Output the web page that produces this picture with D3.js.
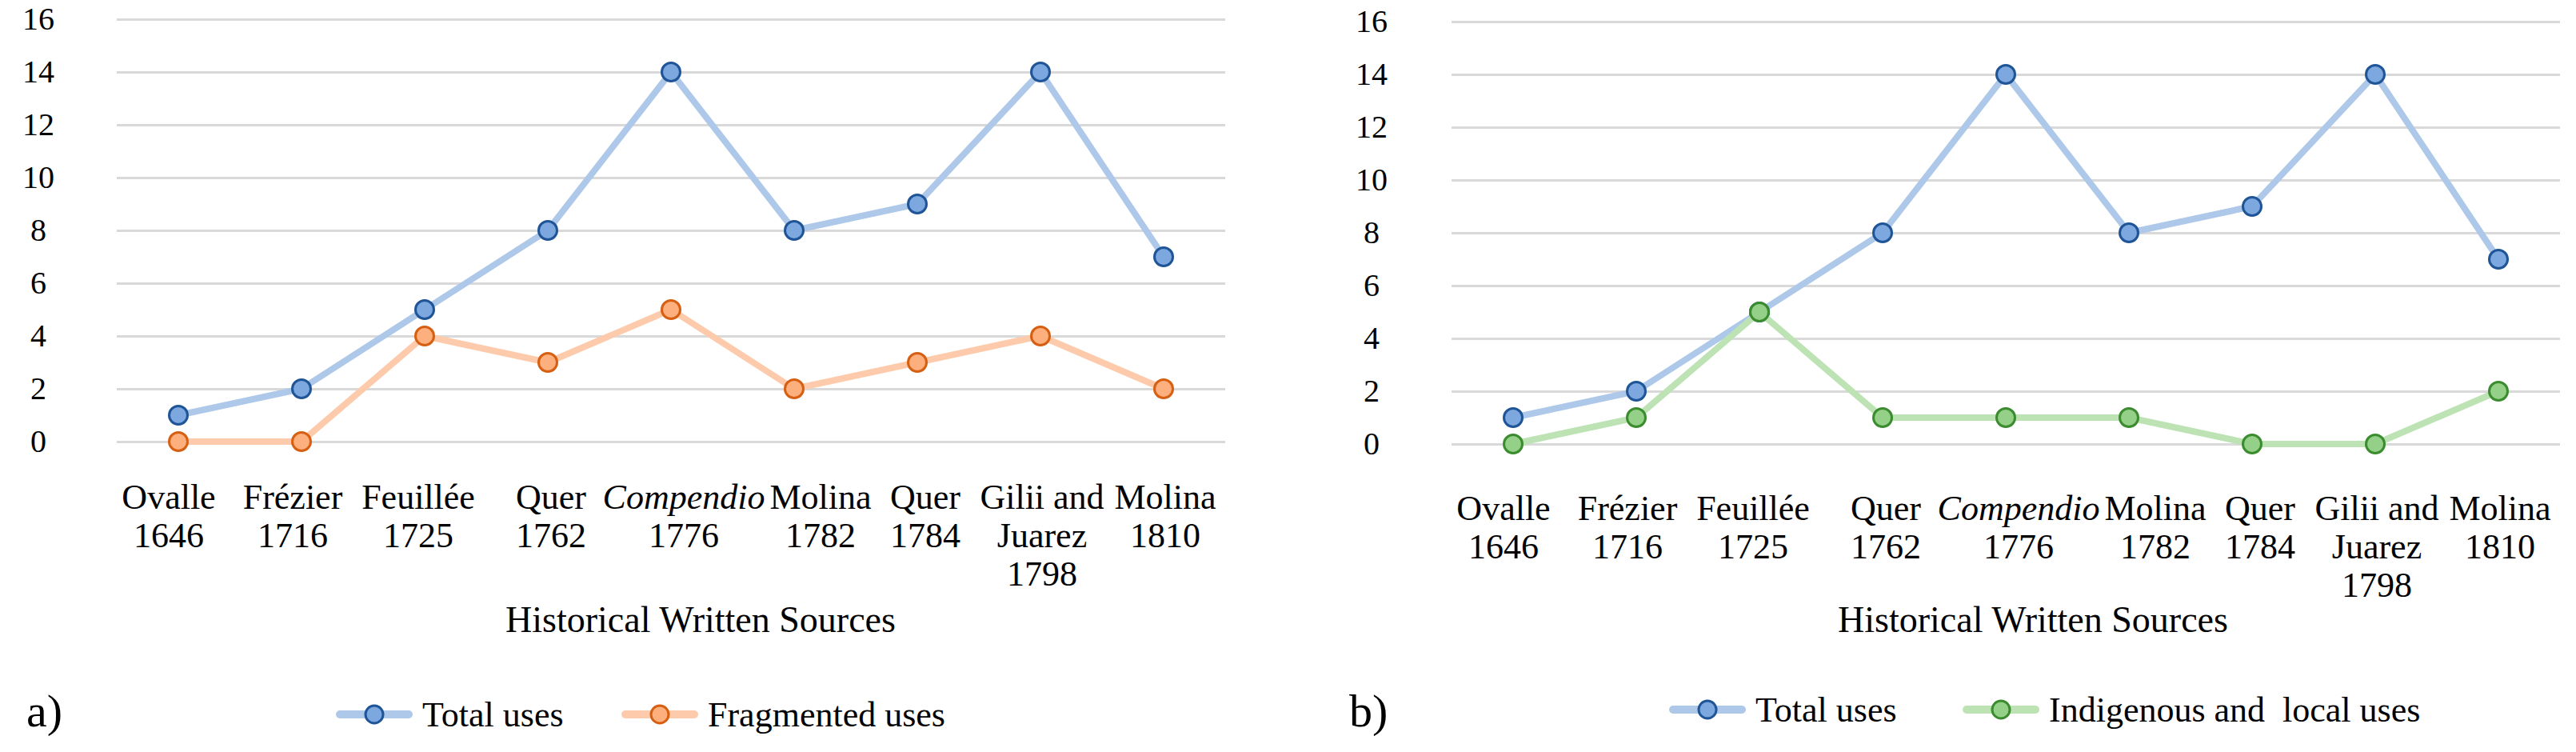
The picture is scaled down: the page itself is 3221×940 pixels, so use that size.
<!DOCTYPE html>
<html>
<head>
<meta charset="utf-8">
<title>Historical written sources - uses</title>
<style>
  body { margin: 0; background: #fff; }
</style>
</head>
<body>
<svg id="chart" width="3221" height="940"></svg>

<script src="https://cdnjs.cloudflare.com/ajax/libs/d3/7.8.5/d3.min.js"></script>
<script>
    // tick labels of the x axis (one entry per source, one string per line)
    const sourceLabels = [
        ["Ovalle", "1646"],
        ["Frézier", "1716"],
        ["Feuillée", "1725"],
        ["Quer", "1762"],
        ["Compendio", "1776"],
        ["Molina", "1782"],
        ["Quer", "1784"],
        ["Gilii and", "Juarez", "1798"],
        ["Molina", "1810"]
    ];
    const italicLabels = ["Compendio"];
    const yTicks = [0, 2, 4, 6, 8, 10, 12, 14, 16];

    // series values
    const totalUses = [1, 2, 5, 8, 14, 8, 9, 14, 7];
    const fragmentedUses = [0, 0, 4, 3, 5, 2, 3, 4, 2];
    const indigenousUses = [0, 1, 5, 1, 1, 1, 0, 0, 2];

    const sourceKeys = sourceLabels.map(l => l.join(" "));
    const serif = "Liberation Serif";
    // small horizontal nudges of the x labels, as the original layout spreads them
    const labelNudge = [-12, -11, -8, 4, 16, 33, 10, 2, 2];

    const blue = { line: "#aec8ea", fill: "#7ca7df", stroke: "#1f5597" };
    const orange = { line: "#fdcbab", fill: "#fdb07e", stroke: "#d65f12" };
    const green = { line: "#bde3b4", fill: "#95d089", stroke: "#3a8c2e" };

    const panels = [
        {
            tag: "a)", tagX: 33,
            left: 146, right: 1532, top: 24, bottom: 552,
            tickX: 48, labelY: 84, titleX: 876,
            legendX: [420, 777], legendY: 893,
            series: [
                Object.assign({ name: "Total uses", values: totalUses }, blue),
                Object.assign({ name: "Fragmented uses", values: fragmentedUses }, orange)
            ]
        },
        {
            tag: "b)", tagX: 1687,
            left: 1815, right: 3201, top: 27, bottom: 555,
            tickX: 1715, labelY: 95, titleX: 2542,
            legendX: [2087, 2454], legendY: 887,
            series: [
                Object.assign({ name: "Total uses", values: totalUses }, blue),
                Object.assign({ name: "Indigenous and  local uses", values: indigenousUses }, green)
            ]
        }
    ];

    const svg = d3.select("#chart");

    panels.forEach(p => {
        const x = d3.scaleBand().domain(sourceKeys).range([p.left, p.right]);
        const y = d3.scaleLinear().domain([0, 16]).range([p.bottom, p.top]);
        const g = svg.append("g");

        // gridlines and y labels
        const yAxis = g.append("g")
            .attr("transform", "translate(" + p.left + ",0)")
            .call(d3.axisLeft(y).tickValues(yTicks).tickSize(-(p.right - p.left)))
            .attr("font-family", serif)
            .attr("font-size", 40);
        yAxis.select(".domain").remove();
        yAxis.selectAll(".tick line").attr("stroke", "#d9d9d9").attr("stroke-width", 3);
        yAxis.selectAll(".tick text")
            .attr("x", p.tickX - p.left)
            .attr("text-anchor", "middle")
            .attr("fill", "#000")
            .attr("font-family", serif)
            .attr("font-size", 40);

        // x labels, split over several lines
        const xAxis = g.append("g")
            .attr("transform", "translate(0," + p.bottom + ")")
            .call(d3.axisBottom(x).tickSize(0))
            .attr("font-family", serif)
            .attr("font-size", 44);
        xAxis.select(".domain").remove();
        xAxis.selectAll(".tick text").each(function (d, i) {
            const t = d3.select(this).text(null)
                .attr("y", p.labelY).attr("dy", null)
                .attr("fill", "#000")
                .attr("font-family", serif)
                .attr("font-size", 44);
            sourceLabels[i].forEach((line, j) => {
                t.append("tspan")
                    .attr("x", labelNudge[i])
                    .attr("dy", j ? 48 : 0)
                    .attr("font-style", italicLabels.includes(line) ? "italic" : null)
                    .text(line);
            });
        });

        const line = d3.line()
            .x((d, i) => x(sourceKeys[i]) + x.bandwidth() / 2)
            .y(d => y(d));

        p.series.forEach(s => {
            g.append("path")
                .attr("d", line(s.values))
                .attr("fill", "none")
                .attr("stroke", s.line)
                .attr("stroke-width", 8)
                .attr("stroke-linejoin", "round")
                .attr("stroke-linecap", "round");

            g.selectAll(null)
                .data(s.values)
                .enter()
                .append("circle")
                .attr("cx", (d, i) => x(sourceKeys[i]) + x.bandwidth() / 2)
                .attr("cy", d => y(d))
                .attr("r", 11.5)
                .attr("fill", s.fill)
                .attr("stroke", s.stroke)
                .attr("stroke-width", 3);
        });

        // axis title
        g.append("text")
            .attr("x", p.titleX)
            .attr("y", 790)
            .attr("text-anchor", "middle")
            .attr("font-family", serif)
            .attr("font-size", 46)
            .text("Historical Written Sources");

        // panel tag
        g.append("text")
            .attr("x", p.tagX)
            .attr("y", 908)
            .attr("font-family", serif)
            .attr("font-size", 58)
            .text(p.tag);

        // legend
        p.series.forEach((s, i) => {
            const lg = g.append("g").attr("transform", "translate(" + p.legendX[i] + "," + p.legendY + ")");
            lg.append("line")
                .attr("x1", 5).attr("x2", 91)
                .attr("stroke", s.line)
                .attr("stroke-width", 10)
                .attr("stroke-linecap", "round");
            lg.append("circle")
                .attr("cx", 48).attr("r", 11)
                .attr("fill", s.fill)
                .attr("stroke", s.stroke)
                .attr("stroke-width", 3);
            lg.append("text")
                .attr("x", 108).attr("y", 15)
                .attr("font-family", serif)
                .attr("font-size", 44)
                .style("white-space", "pre")
                .text(s.name);
        });
    });
</script>
</body>
</html>
